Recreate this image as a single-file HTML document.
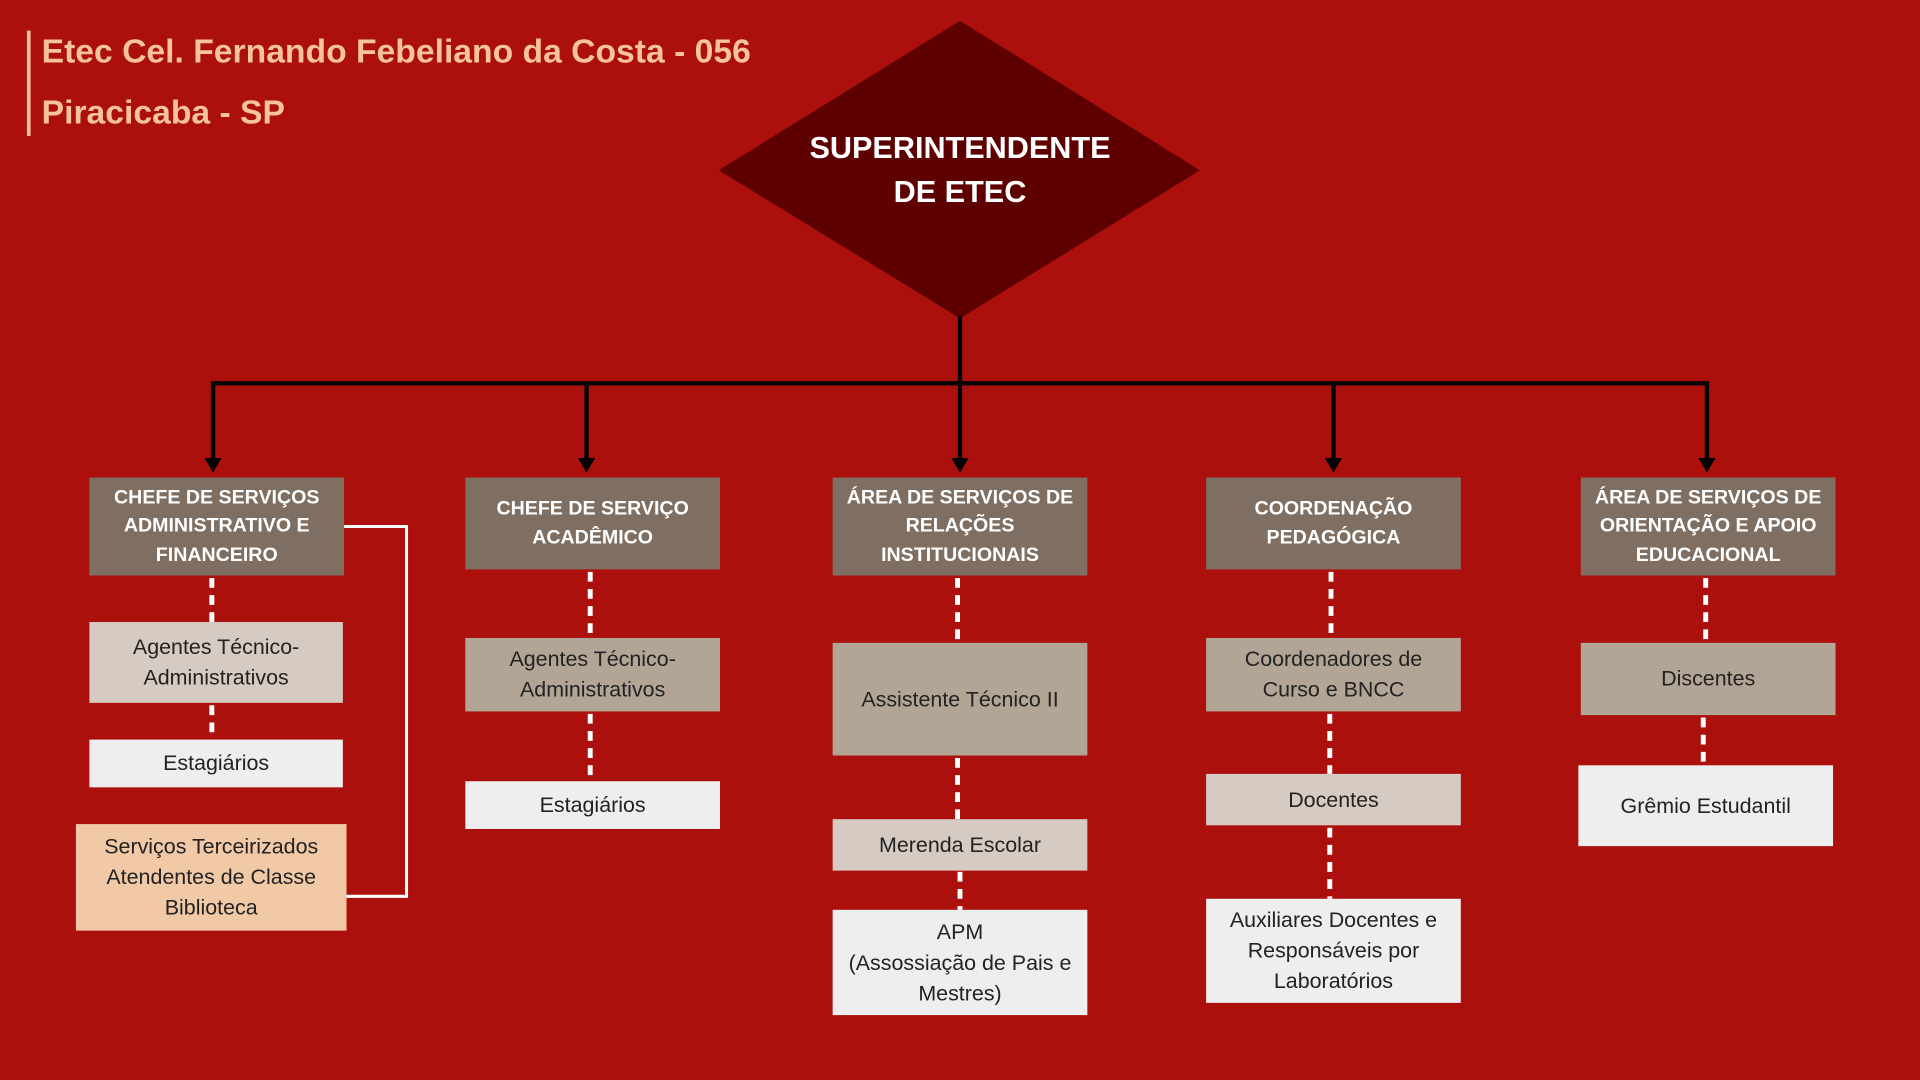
<!DOCTYPE html>
<html><head><meta charset="utf-8"><style>
html,body{margin:0;padding:0;background:#ab100c;overflow:hidden}
#w{position:absolute;left:0;top:0;width:1568px;height:882px;transform:scale(1.2244898);transform-origin:0 0;font-family:"Liberation Sans",sans-serif}
.b{position:absolute;display:flex;align-items:center;justify-content:center;text-align:center;box-sizing:border-box;color:#222;font-size:17.5px;line-height:25px}
.h{background:#7f6f62;color:#fff;font-weight:bold;font-size:16px;line-height:23.5px}
.t{background:#b3a595}.l{background:#d6cbc2}.w{background:#eeeeee}.p{background:#f2c9a7}
.title{position:absolute;left:34px;color:#f6c39b;font-weight:bold;font-size:27.5px}
</style></head><body><div id="w">
<div style="position:absolute;left:22px;top:25px;width:3px;height:86px;background:#f6c39b"></div>
<div class="title" style="top:26px">Etec Cel. Fernando Febeliano da Costa - 056</div>
<div class="title" style="top:76px">Piracicaba - SP</div>
<svg width="1568" height="882" style="position:absolute;left:0;top:0">
<polygon points="784,17 980,139 784,260 587,139" fill="#5e0000"/>
<text x="784" y="129" fill="#fff" font-family="Liberation Sans" font-weight="bold" font-size="25" text-anchor="middle">SUPERINTENDENTE</text>
<text x="784" y="165" fill="#fff" font-family="Liberation Sans" font-weight="bold" font-size="25" text-anchor="middle">DE ETEC</text>
<g stroke="#000" stroke-width="3.5" fill="none">
<line x1="784" y1="258" x2="784" y2="380"/>
<polyline points="174,380 174,313 1394,313 1394,380"/>
<line x1="479" y1="313" x2="479" y2="380"/>
<line x1="1089" y1="313" x2="1089" y2="380"/>
</g>
<g fill="#000">
<polygon points="167,374 181,374 174,386"/><polygon points="472,374 486,374 479,386"/><polygon points="777,374 791,374 784,386"/><polygon points="1082,374 1096,374 1089,386"/><polygon points="1387,374 1401,374 1394,386"/>
</g>
<polyline points="281,430 332,430 332,732 283,732" stroke="#fff" stroke-width="2.5" fill="none"/>
<g stroke="#fff" stroke-width="4" stroke-dasharray="8 6">
<line x1="173" y1="472" x2="173" y2="508"/><line x1="173" y1="576" x2="173" y2="604"/>
<line x1="482" y1="467" x2="482" y2="521"/><line x1="482" y1="583" x2="482" y2="638"/>
<line x1="782" y1="472" x2="782" y2="525"/><line x1="782" y1="619" x2="782" y2="669"/><line x1="784" y1="712" x2="784" y2="743"/>
<line x1="1087" y1="467" x2="1087" y2="521"/><line x1="1086" y1="583" x2="1086" y2="632"/><line x1="1086" y1="676" x2="1086" y2="734"/>
<line x1="1393" y1="472" x2="1393" y2="525"/><line x1="1391" y1="586" x2="1391" y2="625"/>
</g>
</svg>
<div class="b h" style="left:73px;top:390px;width:208px;height:80px">CHEFE DE SERVIÇOS<br>ADMINISTRATIVO E<br>FINANCEIRO</div>
<div class="b l" style="left:73px;top:508px;width:207px;height:66px">Agentes Técnico-<br>Administrativos</div>
<div class="b w" style="left:73px;top:604px;width:207px;height:39px">Estagiários</div>
<div class="b p" style="left:62px;top:673px;width:221px;height:87px">Serviços Terceirizados<br>Atendentes de Classe<br>Biblioteca</div>
<div class="b h" style="left:380px;top:390px;width:208px;height:75px">CHEFE DE SERVIÇO<br>ACADÊMICO</div>
<div class="b t" style="left:380px;top:521px;width:208px;height:60px">Agentes Técnico-<br>Administrativos</div>
<div class="b w" style="left:380px;top:638px;width:208px;height:39px">Estagiários</div>
<div class="b h" style="left:680px;top:390px;width:208px;height:80px">ÁREA DE SERVIÇOS DE<br>RELAÇÕES<br>INSTITUCIONAIS</div>
<div class="b t" style="left:680px;top:525px;width:208px;height:92px">Assistente Técnico II</div>
<div class="b l" style="left:680px;top:669px;width:208px;height:42px">Merenda Escolar</div>
<div class="b w" style="left:680px;top:743px;width:208px;height:86px">APM<br>(Assossiação de Pais e<br>Mestres)</div>
<div class="b h" style="left:985px;top:390px;width:208px;height:75px">COORDENAÇÃO<br>PEDAGÓGICA</div>
<div class="b t" style="left:985px;top:521px;width:208px;height:60px">Coordenadores de<br>Curso e BNCC</div>
<div class="b l" style="left:985px;top:632px;width:208px;height:42px">Docentes</div>
<div class="b w" style="left:985px;top:734px;width:208px;height:85px">Auxiliares Docentes e<br>Responsáveis por<br>Laboratórios</div>
<div class="b h" style="left:1291px;top:390px;width:208px;height:80px">ÁREA DE SERVIÇOS DE<br>ORIENTAÇÃO E APOIO<br>EDUCACIONAL</div>
<div class="b t" style="left:1291px;top:525px;width:208px;height:59px">Discentes</div>
<div class="b w" style="left:1289px;top:625px;width:208px;height:66px">Grêmio Estudantil</div>
</div></body></html>
